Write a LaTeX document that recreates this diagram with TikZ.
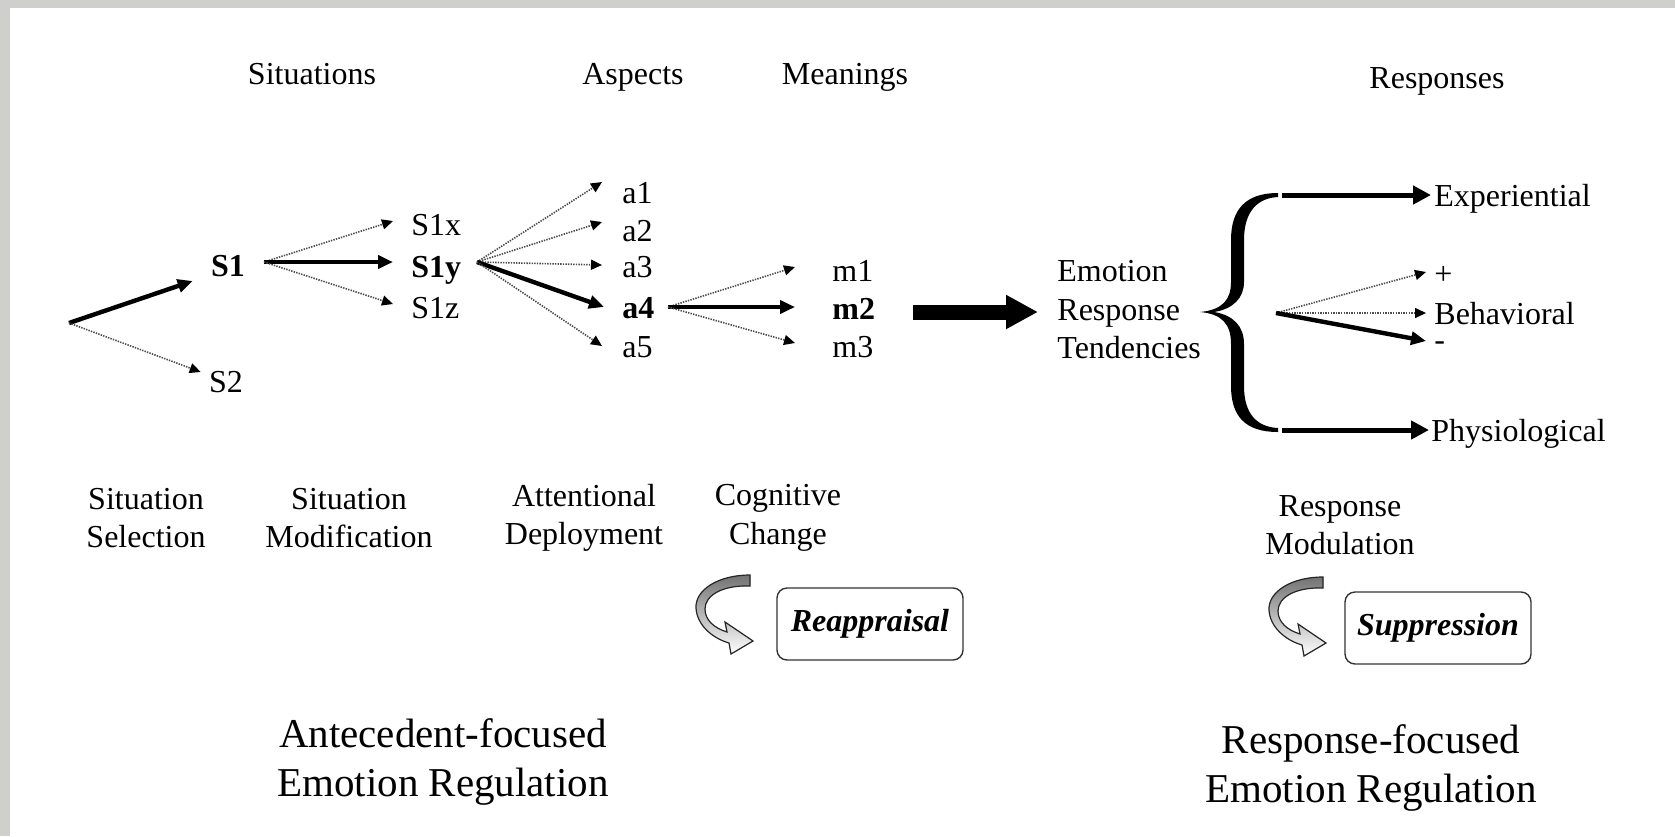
\documentclass[tikz,border=0pt]{standalone}
\usepackage{fontspec}
\setmainfont{Liberation Serif}
\usetikzlibrary{arrows.meta}
\definecolor{framegray}{RGB}{207,208,203}
\begin{document}
\begin{tikzpicture}[x=0.5pt,y=-0.5pt,
  lbl/.style={inner sep=0pt, font=\fontsize{16}{19.25}\selectfont, text height=11pt, text depth=0pt},
  multi/.style={inner sep=0pt, align=center, font=\fontsize{16}{19.25}\selectfont},
  big/.style={inner sep=0pt, align=center, font=\fontsize{20.5}{24.5}\selectfont},
  thk/.style={line width=2.2pt, -{Triangle[length=7.5pt,width=6.5pt]}},
  dot/.style={line width=0.8pt, black!70, dash pattern=on 0.7pt off 0.6pt, -{Triangle[length=5.5pt,width=5pt,color=black]}},
  fat/.style={line width=2.5pt, -{Triangle[length=9pt,width=9pt]}},
  huge/.style={line width=7.5pt, -{Triangle[length=16pt,width=16pt]}},
  tbox/.style={draw=black!80, line width=0.7pt, rounded corners=5pt, minimum width=93pt, minimum height=36pt, inner sep=0pt, font=\fontsize{16}{19}\selectfont\bfseries\itshape},
  turn/.pic={
    \filldraw[line width=0.6pt, draw=black!85, top color=black!55, bottom color=white]
      (750,575) .. controls (718,575) and (695,590) .. (696,608)
      .. controls (697,625) and (712,638) .. (729,643)
      -- (731,654) -- (753,641) -- (725,622) -- (727,632)
      .. controls (714,628) and (705,620) .. (705,609)
      .. controls (705,595) and (723,585) .. (750,586) -- cycle;
  }
]
\useasboundingbox (0,0) rectangle (1675,836);
\fill[white] (0,0) rectangle (1675,836);
\fill[framegray] (0,0) rectangle (1675,8);
\fill[framegray] (0,0) rectangle (10,836);

% headers
\node[lbl] (hsit) at (312,73) {Situations};
\node[lbl] (hasp) at (633,73) {Aspects};
\node[lbl] (hmea) at (845,73) {Meanings};
\node[lbl] (hres) at (1437,77) {Responses};

% situations
\coordinate (o) at (69,323);
\node[lbl, font=\fontsize{16}{19.25}\selectfont\bfseries] (s1) at (228,265) {S1};
\node[lbl] (s2) at (226,381) {S2};
\draw[thk] (o) -- ([xshift=-9pt,yshift=-8pt]s1.west);
\draw[dot] (o) -- ([xshift=-4pt,yshift=4.5pt]s2.west);

\node[lbl, anchor=west] (s1x) at (411,224) {S1x};
\node[lbl, anchor=west, font=\fontsize{16}{19.25}\selectfont\bfseries] (s1y) at (411,266) {S1y};
\node[lbl, anchor=west] (s1z) at (411,307) {S1z};
\coordinate (f1) at (264,262);
\draw[dot] (f1) -- ([xshift=-9pt,yshift=1.5pt]s1x.west);
\draw[thk] (f1) -- ([xshift=-9pt,yshift=2pt]s1y.west);
\draw[dot] (f1) -- ([xshift=-9pt,yshift=1.5pt]s1z.west);

% aspects
\node[lbl, anchor=west] (a1) at (622,192) {a1};
\node[lbl, anchor=west] (a2) at (622,230) {a2};
\node[lbl, anchor=west] (a3) at (622,266) {a3};
\node[lbl, anchor=west, font=\fontsize{16}{19.25}\selectfont\bfseries] (a4) at (622,307) {a4};
\node[lbl, anchor=west] (a5) at (622,346) {a5};
\coordinate (f2) at (477,262);
\draw[dot] (f2) -- ([xshift=-10pt,yshift=5pt]a1.west);
\draw[dot] (f2) -- ([xshift=-10pt,yshift=4pt]a2.west);
\draw[dot] (f2) -- ([xshift=-10pt,yshift=0.5pt]a3.west);
\draw[thk] (f2) -- ([xshift=-9pt]a4.west);
\draw[dot] (f2) -- ([xshift=-10pt]a5.west);

% meanings
\node[lbl, anchor=west] (m1) at (832,270) {m1};
\node[lbl, anchor=west, font=\fontsize{16}{19.25}\selectfont\bfseries] (m2) at (832,308) {m2};
\node[lbl, anchor=west] (m3) at (832,346) {m3};
\coordinate (f3) at (668,307);
\draw[dot] (f3) -- ([xshift=-18.5pt,yshift=1.5pt]m1.west);
\draw[thk] (f3) -- ([xshift=-18.5pt,yshift=0.5pt]m2.west);
\draw[dot] (f3) -- ([xshift=-18.5pt,yshift=1.5pt]m3.west);

% emotion response tendencies
\node[multi, align=left, anchor=west] (ert) at (1057,310) {Emotion\\Response\\Tendencies};
\coordinate (bs) at (913,312);
\draw[huge] (bs) -- ([xshift=-9.5pt,yshift=-1pt]ert.west);

% brace
\fill[black] (1278,193) .. controls (1245,193) and (1231,210) .. (1231,240)
  -- (1231,282) .. controls (1231,300) and (1222,310) .. (1200,312)
  .. controls (1222,314) and (1231,324) .. (1231,344)
  -- (1231,386) .. controls (1231,416) and (1245,432) .. (1278,432)
  -- (1278,428) .. controls (1257,427) and (1244,414) .. (1244,386)
  -- (1244,344) .. controls (1244,326) and (1233,315) .. (1214,312)
  .. controls (1233,309) and (1244,298) .. (1244,282)
  -- (1244,240) .. controls (1244,212) and (1257,198) .. (1278,197) -- cycle;

% responses
\node[lbl, anchor=west] (exp) at (1434,195) {Experiential};
\node[lbl, anchor=west] (plus) at (1434,273) {+};
\node[lbl, anchor=west] (beh) at (1434,313) {Behavioral};
\node[inner sep=0pt, anchor=west, font=\fontsize{16}{19.25}\selectfont, text height=4pt, text depth=0pt] (minus) at (1434,346) {-};
\node[lbl, anchor=west] (phys) at (1431,430) {Physiological};
\coordinate (e0) at (1282,195);
\coordinate (p0) at (1282,430);
\coordinate (b0) at (1276,313);
\draw[fat] (e0) -- ([xshift=-1.5pt]exp.west);
\draw[fat] (p0) -- ([xshift=-1pt]phys.west);
\draw[dot] (b0) -- ([xshift=-4pt,yshift=0.5pt]plus.west);
\draw[dot] (b0) -- ([xshift=-4pt]beh.west);
\draw[thk] (b0) -- ([xshift=-4pt,yshift=2.5pt]minus.west);

% strategy labels
\node[multi] (ssel) at (146,518) {Situation\\Selection};
\node[multi] (smod) at (349,518) {Situation\\Modification};
\node[multi] (adep) at (584,518) {Attentional\\Deployment};
\node[multi] (cchg) at (778,518) {Cognitive\\Change};
\node[multi] (rmod) at (1340,525) {Response\\Modulation};

% boxes
\node[tbox] (reap) at (870,624) {Reappraisal};
\node[tbox] (supp) at (1438,628) {Suppression};
\pic at (0,0) {turn};
\pic at (573,2) {turn};

% bottom titles
\node[big] (ante) at (443,762) {Antecedent-focused\\Emotion Regulation};
\node[big] (resp) at (1371,768) {Response-focused\\Emotion Regulation};
\end{tikzpicture}
\end{document}
